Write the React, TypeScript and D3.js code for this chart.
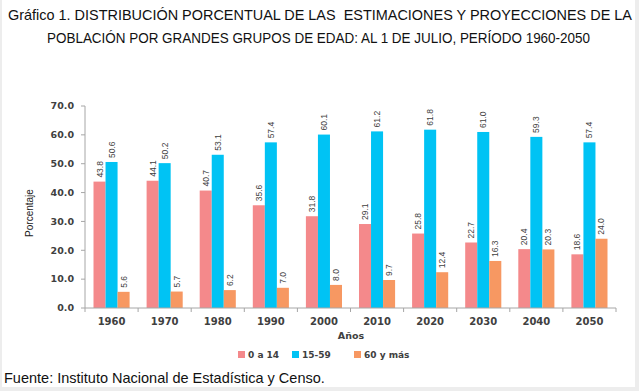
import * as d3 from "d3";

const W = 639;
const H = 391;
const MARGIN = { top: 106, right: 23, bottom: 83, left: 85 };

const YEARS = ["1960", "1970", "1980", "1990", "2000", "2010", "2020", "2030", "2040", "2050"];
const SERIES = ["0 a 14", "15-59", "60 y más"];
const COLORS = ["#F4898B", "#00C3F4", "#F79862"];
const AGE_0_14 = [43.8, 44.1, 40.7, 35.6, 31.8, 29.1, 25.8, 22.7, 20.4, 18.6];
const AGE_15_59 = [50.6, 50.2, 53.1, 57.4, 60.1, 61.2, 61.8, 61.0, 59.3, 57.4];
const AGE_60 = [5.6, 5.7, 6.2, 7.0, 8.0, 9.7, 12.4, 16.3, 20.3, 24.0];
const Y_TICKS = [0, 10, 20, 30, 40, 50, 60, 70];

const TITLE_1 = "Gráfico 1. DISTRIBUCIÓN PORCENTUAL DE LAS  ESTIMACIONES Y PROYECCIONES DE LA";
const TITLE_2 = "POBLACIÓN POR GRANDES GRUPOS DE EDAD: AL 1 DE JULIO, PERÍODO 1960-2050";
const SOURCE = "Fuente: Instituto Nacional de Estadística y Censo.";

const NARROW = "'Liberation Sans Narrow', 'Arial Narrow', 'Liberation Sans', Arial, sans-serif";
const GOTHIC = "'DejaVu Sans', Verdana, sans-serif";

export default function App() {
  const bottom = H - MARGIN.bottom;
  const right = W - MARGIN.right;
  const values = [AGE_0_14, AGE_15_59, AGE_60];

  const x0 = d3.scaleBand().domain(YEARS).range([MARGIN.left, right]);
  const x1 = d3
    .scaleBand()
    .domain(SERIES)
    .range([8.5, x0.bandwidth() - 8.5]);
  const y = d3.scaleLinear().domain([0, 70]).range([bottom, MARGIN.top]);
  const fmt = d3.format(".1f");

  const legendX = [238, 292, 354];

  return (
    <div style={{ position: "fixed", left: 0, top: 0 }}>
      <svg width={W} height={H} style={{ display: "block" }}>
        <rect width={W} height={H} fill="#EDEDED" />
        <rect x={2} y={0} width={633} height={387} fill="#ffffff" />

        <text x={8} y={20} fontFamily={NARROW} fontSize={14.5} fill="#111" style={{ whiteSpace: "pre" }}
          textLength={624} lengthAdjust="spacingAndGlyphs">{TITLE_1}</text>
        <text x={47} y={43} fontFamily={NARROW} fontSize={14.5} fill="#111"
          textLength={543} lengthAdjust="spacingAndGlyphs">{TITLE_2}</text>

        {/* y axis */}
        <line x1={MARGIN.left} x2={MARGIN.left} y1={MARGIN.top} y2={bottom} stroke="#A6A6A6" />
        {Y_TICKS.map((t) => (
          <g key={t}>
            <line x1={MARGIN.left - 4} x2={MARGIN.left} y1={y(t)} y2={y(t)} stroke="#A6A6A6" />
            <text x={74} y={y(t)} dy="0.35em" textAnchor="end" fontFamily={GOTHIC}
              fontWeight="bold" fontSize={9.5} fill="#404040">{fmt(t)}</text>
          </g>
        ))}
        <text transform={`translate(33,${(MARGIN.top + bottom) / 2 + 6}) rotate(-90)`}
          textAnchor="middle" fontFamily={NARROW} fontSize={10} fill="#222">Porcentaje</text>

        {/* bars */}
        {YEARS.map((yr, i) => (
          <g key={yr} transform={`translate(${x0(yr)},0)`}>
            {SERIES.map((s, k) => {
              const v = values[k][i];
              const bx = x1(s) as number;
              return (
                <g key={s}>
                  <rect x={bx} y={y(v)} width={x1.bandwidth()} height={bottom - y(v)} fill={COLORS[k]} />
                  <text transform={`translate(${bx + x1.bandwidth() / 2 + 3},${y(v) - 4}) rotate(-90)`}
                    fontFamily={NARROW} fontSize={8.5} fill="#404040">{fmt(v)}</text>
                </g>
              );
            })}
          </g>
        ))}

        {/* x axis */}
        <line x1={MARGIN.left} x2={right} y1={bottom} y2={bottom} stroke="#A6A6A6" />
        {[...YEARS.map((yr) => x0(yr) as number), right].map((px, i) => (
          <line key={i} x1={px} x2={px} y1={bottom} y2={bottom + 4} stroke="#A6A6A6" />
        ))}
        {YEARS.map((yr) => (
          <text key={yr} x={(x0(yr) as number) + x0.bandwidth() / 2} y={325} textAnchor="middle"
            fontFamily={GOTHIC} fontWeight="bold" fontSize={10} fill="#404040">{yr}</text>
        ))}
        <text x={351} y={339} textAnchor="middle" fontFamily={GOTHIC} fontWeight="bold"
          fontSize={9.5} fill="#404040">Años</text>

        {/* legend */}
        {SERIES.map((s, k) => (
          <g key={s}>
            <rect x={legendX[k]} y={351} width={7} height={7} fill={COLORS[k]} />
            <text x={legendX[k] + 10} y={358} fontFamily={GOTHIC} fontWeight="bold"
              fontSize={9} fill="#404040">{s}</text>
          </g>
        ))}

        <text x={4} y={383} fontFamily="'Liberation Sans', Arial, sans-serif" fontSize={14.5}
          fill="#111">{SOURCE}</text>
      </svg>
    </div>
  );
}
